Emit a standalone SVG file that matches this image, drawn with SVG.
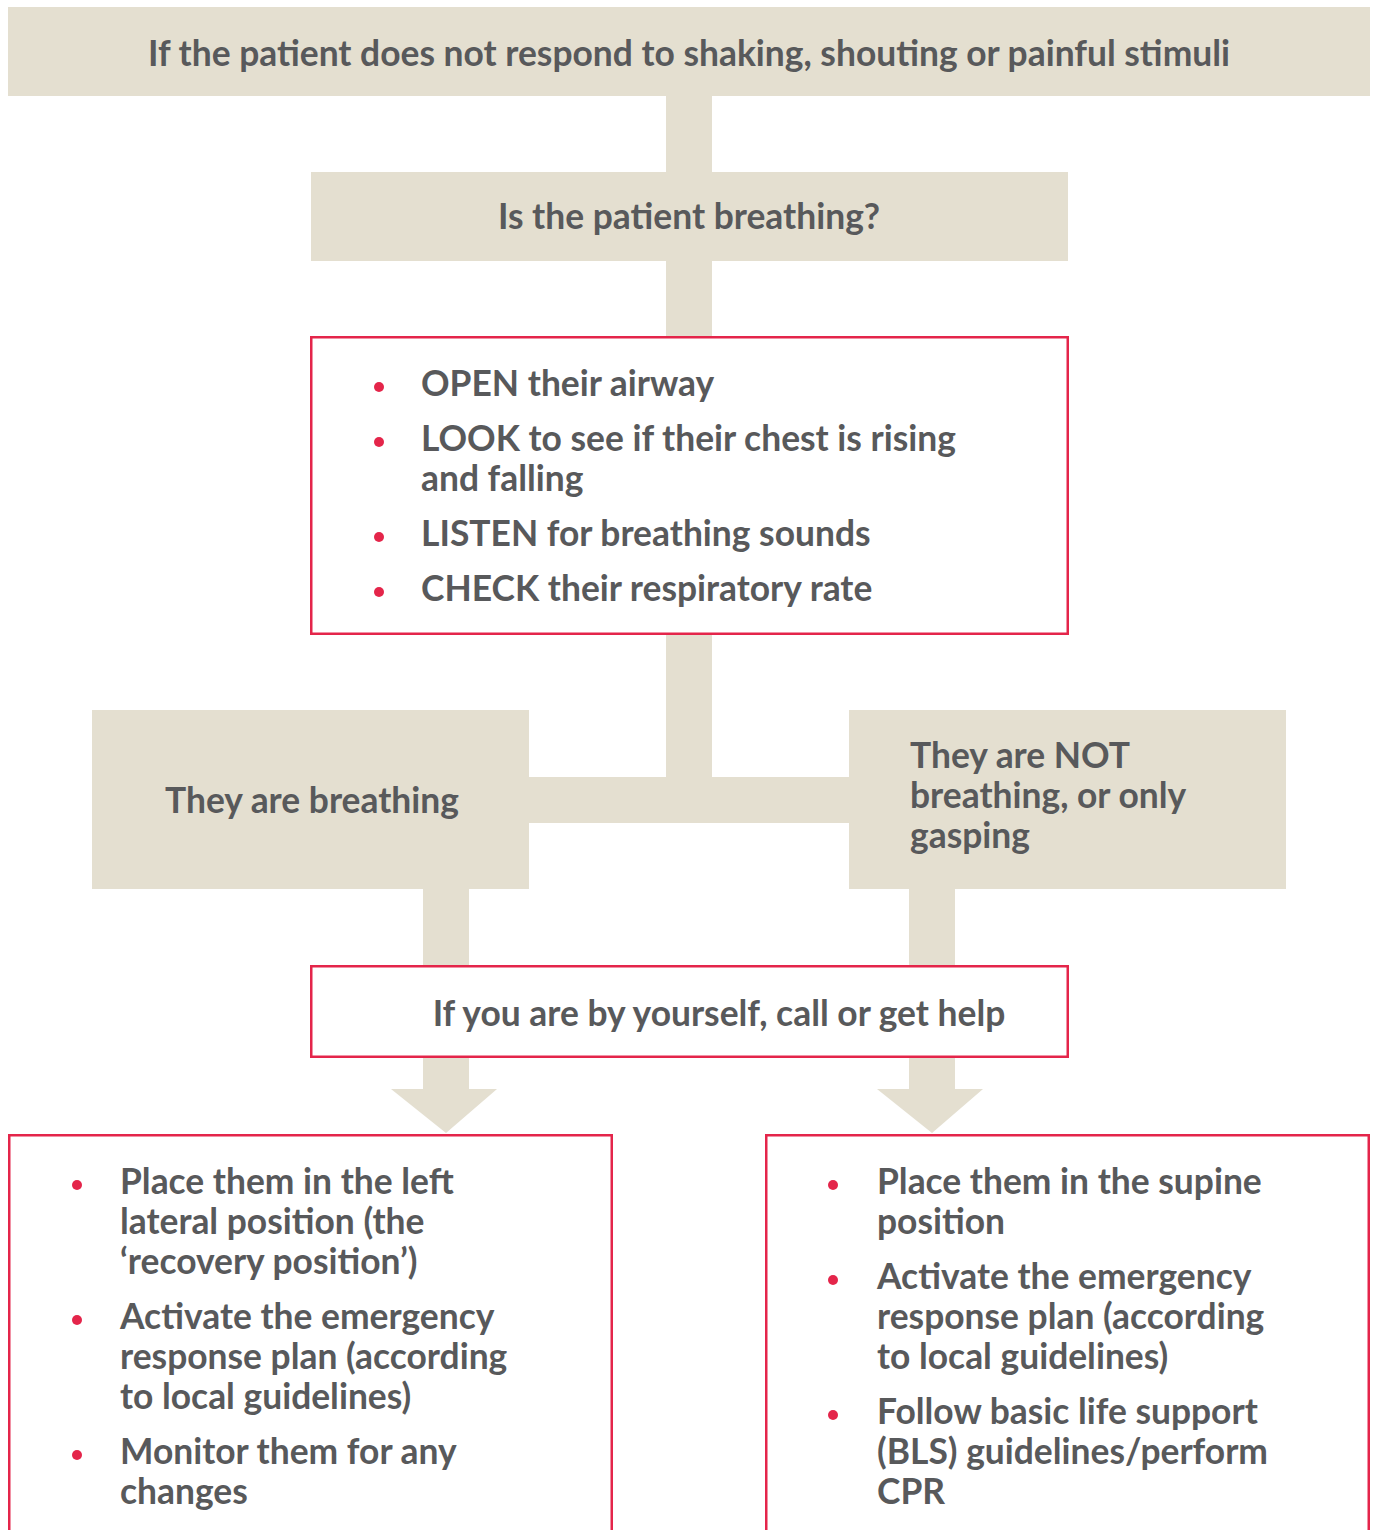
<svg xmlns="http://www.w3.org/2000/svg" width="1375" height="1530" viewBox="0 0 1375 1530">
<style>
.bg{fill:#e4dfd0}
.red{fill:#ffffff;stroke:#e4254a;stroke-width:2.5}
text{font-family:"Lato","Open Sans",sans-serif;font-weight:700;font-size:35.4px;fill:#58595b}
.c{text-anchor:middle}
.dot{fill:#e4254a}
</style>
<rect width="1375" height="1530" fill="#ffffff"/>
<g id="connectors">
<rect class="bg" x="666" y="90" width="46" height="90"/>
<rect class="bg" x="666" y="255" width="46" height="90"/>
<rect class="bg" x="666" y="630" width="46" height="193"/>
<rect class="bg" x="520" y="777" width="340" height="46"/>
<rect class="bg" x="423" y="880" width="46" height="90"/>
<rect class="bg" x="909" y="880" width="46" height="90"/>
<polygon class="bg" points="423,1055 469,1055 469,1089 497,1089 446,1133 391,1089 423,1089"/>
<polygon class="bg" points="909,1055 955,1055 955,1089 983,1089 932,1133 877,1089 909,1089"/>
</g>
<g id="n1"><rect class="bg" x="8" y="7" width="1362" height="89"/>
<text class="c" x="689" y="66">If the patient does not respond to shaking, shouting or painful stimuli</text></g>
<g id="n2"><rect class="bg" x="311" y="172" width="757" height="89"/>
<text class="c" x="689" y="229">Is the patient breathing?</text></g>
<g id="n3"><rect class="red" x="311.25" y="337.25" width="756.5" height="296.5"/>
<circle class="dot" cx="379" cy="387" r="5"/><text x="421" y="396">OPEN their airway</text>
<circle class="dot" cx="379" cy="442" r="5"/><text x="421" y="451">LOOK to see if their chest is rising</text><text x="421" y="491">and falling</text>
<circle class="dot" cx="379" cy="537" r="5"/><text x="421" y="546">LISTEN for breathing sounds</text>
<circle class="dot" cx="379" cy="592" r="5"/><text x="421" y="601">CHECK their respiratory rate</text></g>
<g id="n4"><rect class="bg" x="92" y="710" width="437" height="179"/>
<text x="165" y="813">They are breathing</text></g>
<g id="n5"><rect class="bg" x="849" y="710" width="437" height="179"/>
<text x="910" y="768">They are NOT</text><text x="910" y="808">breathing, or only</text><text x="910" y="848">gasping</text></g>
<g id="n6"><rect class="red" x="311.25" y="966.25" width="756.5" height="90.5"/>
<text class="c" x="719" y="1026">If you are by yourself, call or get help</text></g>
<g id="n7"><rect class="red" x="9.25" y="1135.25" width="602.5" height="420"/>
<circle class="dot" cx="77" cy="1185" r="5"/><text x="120" y="1194">Place them in the left</text><text x="120" y="1234">lateral position (the</text><text x="120" y="1274">‘recovery position’)</text>
<circle class="dot" cx="77" cy="1320" r="5"/><text x="120" y="1329">Activate the emergency</text><text x="120" y="1369">response plan (according</text><text x="120" y="1409">to local guidelines)</text>
<circle class="dot" cx="77" cy="1455" r="5"/><text x="120" y="1464">Monitor them for any</text><text x="120" y="1504">changes</text></g>
<g id="n8"><rect class="red" x="766.25" y="1135.25" width="602.5" height="420"/>
<circle class="dot" cx="833" cy="1185" r="5"/><text x="877" y="1194">Place them in the supine</text><text x="877" y="1234">position</text>
<circle class="dot" cx="833" cy="1280" r="5"/><text x="877" y="1289">Activate the emergency</text><text x="877" y="1329">response plan (according</text><text x="877" y="1369">to local guidelines)</text>
<circle class="dot" cx="833" cy="1415" r="5"/><text x="877" y="1424">Follow basic life support</text><text x="877" y="1464">(BLS) guidelines/perform</text><text x="877" y="1504">CPR</text></g>
</svg>
